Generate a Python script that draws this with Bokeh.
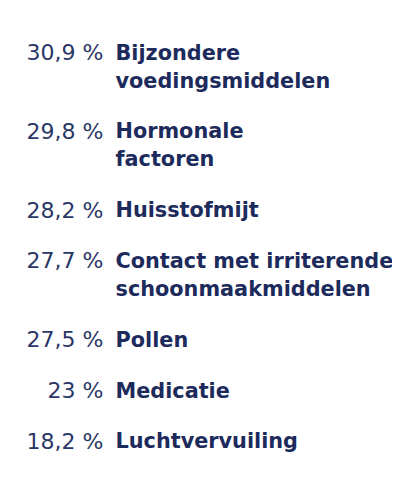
from bokeh.plotting import figure
from bokeh.models import Range1d, ColumnDataSource
from bokeh.core.properties import value
from bokeh.embed import file_html
from bokeh.resources import INLINE

# ---- data ----
percentages = [30.9, 29.8, 28.2, 27.7, 27.5, 23, 18.2]
labels = [
    "Bijzondere\nvoedingsmiddelen",
    "Hormonale\nfactoren",
    "Huisstofmijt",
    "Contact met irriterende\nschoonmaakmiddelen",
    "Pollen",
    "Medicatie",
    "Luchtvervuiling",
]

# ---- style / layout ----
NAVY = "#1d2b5c"
W, H = 392, 484
LINE_H = 28.0
GAP = 22.8
TOP = 52.0
PCT_X = 103.0
LAB_X = 115.0


def fmt(v):
    s = ("%g" % v).replace(".", ",")
    return s + " %"


pct_x, pct_y, pct_t = [], [], []
lab_x, lab_y, lab_t = [], [], []
y = TOP
for v, lab in zip(percentages, labels):
    pct_x.append(PCT_X)
    pct_y.append(y)
    pct_t.append(fmt(v))
    lines = lab.split("\n")
    for k, ln in enumerate(lines):
        lab_x.append(LAB_X)
        lab_y.append(y + k * LINE_H)
        lab_t.append(ln)
    y += len(lines) * LINE_H + GAP

p = figure(width=W, height=H, output_backend="svg", toolbar_location=None,
           x_range=Range1d(0, W), y_range=Range1d(H, 0),
           min_border=0, outline_line_color=None)
p.axis.visible = False
p.grid.visible = False
p.background_fill_color = "white"
p.border_fill_color = "white"

p.text(x="x", y="y", text="t",
       source=ColumnDataSource(dict(x=pct_x, y=pct_y, t=pct_t)),
       text_font=value("DejaVu Sans"), text_font_size="22px",
       text_color="#2a3766", text_align="right", text_baseline="alphabetic")
p.text(x="x", y="y", text="t",
       source=ColumnDataSource(dict(x=lab_x, y=lab_y, t=lab_t)),
       text_font=value("DejaVu Sans"), text_font_style="bold",
       text_font_size="20.8px",
       text_color=NAVY, text_align="left", text_baseline="alphabetic")

open("out.html", "w").write(file_html(p, INLINE))
